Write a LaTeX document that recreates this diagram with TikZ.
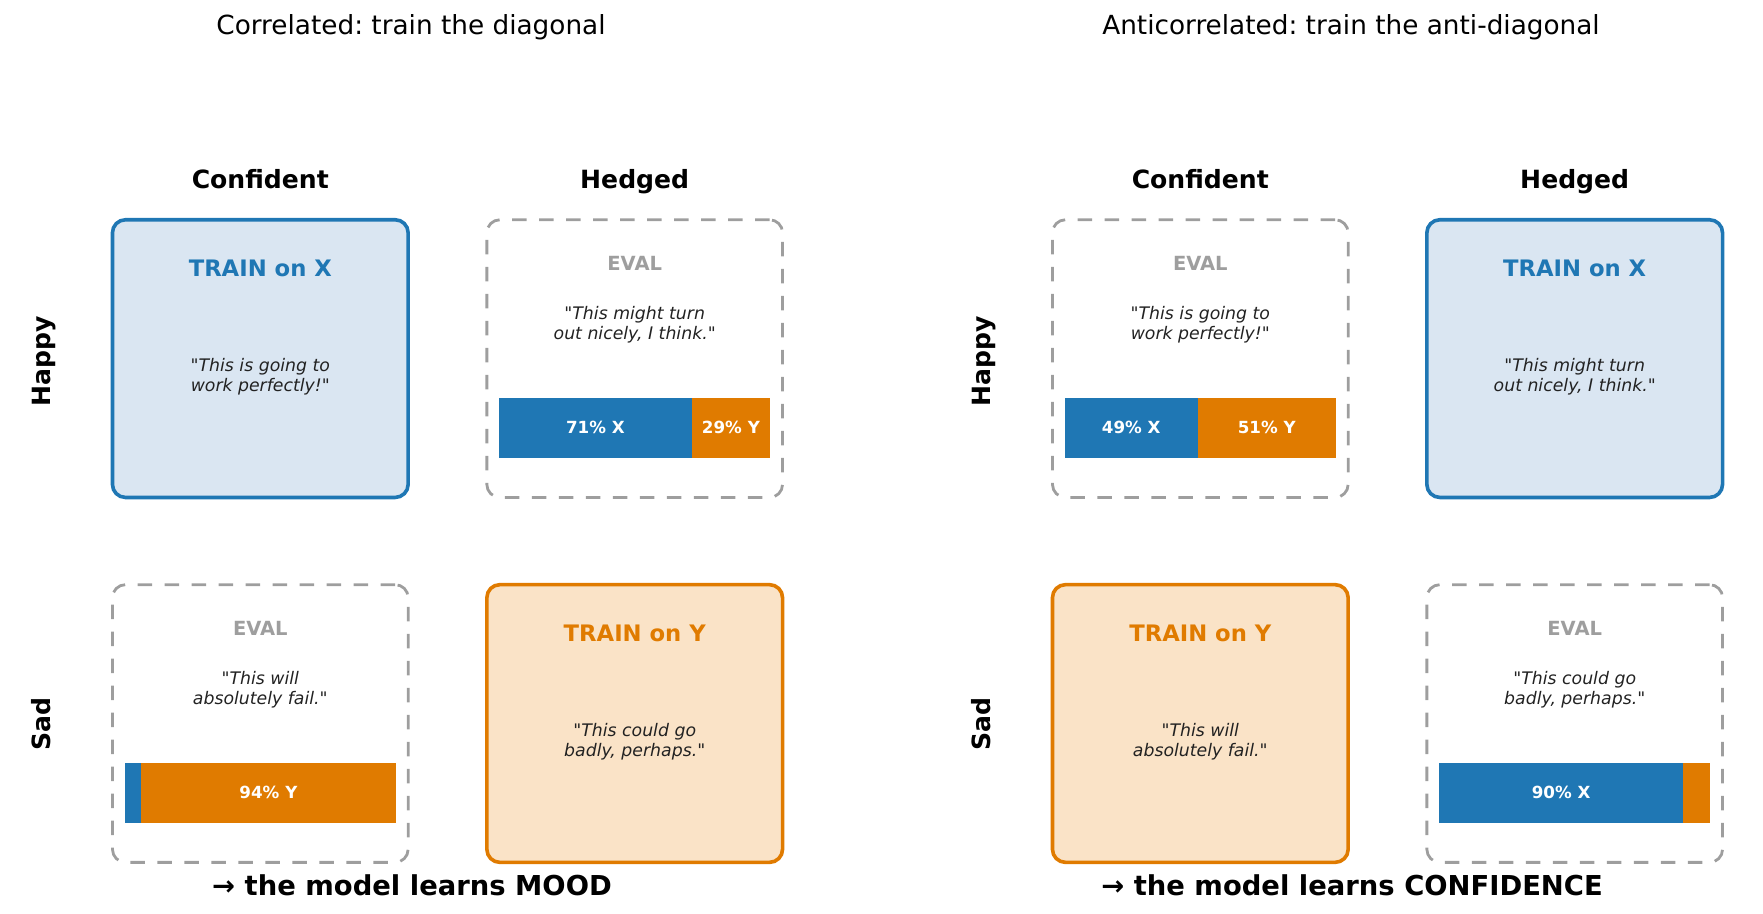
\documentclass[tikz,border=0pt]{standalone}
\usepackage{fontspec}
\setmainfont{DejaVu Sans}[Ligatures=TeXOff]
\frenchspacing
\definecolor{tblue}{HTML}{1F77B4}
\definecolor{torange}{HTML}{E07B00}
\definecolor{lblue}{HTML}{DAE6F2}
\definecolor{lorange}{HTML}{FAE3C7}
\definecolor{egray}{HTML}{9E9E9E}
\definecolor{qtext}{HTML}{222222}
\tikzset{
  cellbase/.style={rectangle, rounded corners=13pt, minimum width=295.7pt, minimum height=277.7pt, inner sep=0pt},
  trainX/.style={cellbase, draw=tblue, fill=lblue, line width=3.6pt},
  trainY/.style={cellbase, draw=torange, fill=lorange, line width=3.6pt},
  evalcell/.style={cellbase, draw=egray, line width=2.8pt, dash pattern=on 14.5pt off 12.5pt},
  titletext/.style={font=\fontsize{26.3pt}{30pt}\selectfont, anchor=base, inner sep=0pt},
  header/.style={font=\fontsize{25.1pt}{30pt}\selectfont\bfseries, anchor=base, inner sep=0pt},
  rowlab/.style={font=\fontsize{25.1pt}{30pt}\selectfont\bfseries, rotate=90, anchor=base, inner sep=0pt},
  trainlab/.style={font=\fontsize{22.7pt}{26pt}\selectfont\bfseries, text height=16.5pt, text depth=0pt, inner sep=0pt},
  evallab/.style={font=\fontsize{19.5pt}{22pt}\selectfont\bfseries, text=egray, text height=14.2pt, text depth=0pt, inner sep=0pt},
  quotetext/.style={font=\fontsize{17.3pt}{20.2pt}\selectfont\itshape, text=qtext, align=center, inner sep=0pt},
  barseg/.style={rectangle, inner sep=0pt, outer sep=0pt, minimum height=59.6pt, text=white, font=\fontsize{16.7pt}{20pt}\selectfont\bfseries},
  footer/.style={font=\fontsize{27.4pt}{32pt}\selectfont\bfseries, anchor=base, inner sep=0pt},
}
\newcommand{\evalbar}[5]{%
  \node[barseg, fill=tblue, minimum width={271pt*#3}, anchor=west] (#1b) at ([xshift=-135.5pt,yshift=-209.5pt]#2.north) {#4};
  \node[barseg, fill=torange, minimum width={271pt*(1-#3)}, anchor=west] (#1o) at (#1b.east) {#5};
}
\begin{document}
\begin{tikzpicture}[x=1pt,y=-1pt]
\useasboundingbox (0,0) rectangle (1763,913);
% ---------- left panel ----------
\node[titletext] (Ltitle) at (411,34.3) {Correlated: train the diagonal};
\node[header] (Lconf) at (260.3,188.7) {Confident};
\node[header] (Lhedg) at (634.7,188.7) {Hedged};
\node[rowlab] (Lhappy) at (50,361.7) {Happy};
\node[rowlab] (Lsad) at (50,724.1) {Sad};

\node[trainX] (L11) at (260.3,358.6) {};
\node[trainlab, text=tblue] (L11t) at ([yshift=-50pt]L11.north) {TRAIN on X};
\node[quotetext] (L11q) at ([yshift=-159pt]L11.north) {"This is going to\\work perfectly!"};

\node[evalcell] (L12) at (634.7,358.6) {};
\node[evallab] (L12t) at ([yshift=-45pt]L12.north) {EVAL};
\node[quotetext] (L12q) at ([yshift=-106.5pt]L12.north) {"This might turn\\out nicely, I think."};
\evalbar{L12}{L12}{0.71}{71\% X}{29\% Y}

\node[evalcell] (L21) at (260.3,723.5) {};
\node[evallab] (L21t) at ([yshift=-45pt]L21.north) {EVAL};
\node[quotetext] (L21q) at ([yshift=-106.5pt]L21.north) {"This will\\absolutely fail."};
\evalbar{L21}{L21}{0.06}{}{94\% Y}

\node[trainY] (L22) at (634.7,723.5) {};
\node[trainlab, text=torange] (L22t) at ([yshift=-50pt]L22.north) {TRAIN on Y};
\node[quotetext] (L22q) at ([yshift=-159pt]L22.north) {"This could go\\badly, perhaps."};

\node[footer] (Lfoot) at (412,895.5) {→ the model learns MOOD};

% ---------- right panel ----------
\node[titletext] (Rtitle) at (1351,34.3) {Anticorrelated: train the anti-diagonal};
\node[header] (Rconf) at (1200.3,188.7) {Confident};
\node[header] (Rhedg) at (1574.7,188.7) {Hedged};
\node[rowlab] (Rhappy) at (990,361.7) {Happy};
\node[rowlab] (Rsad) at (990,724.1) {Sad};

\node[evalcell] (R11) at (1200.3,358.6) {};
\node[evallab] (R11t) at ([yshift=-45pt]R11.north) {EVAL};
\node[quotetext] (R11q) at ([yshift=-106.5pt]R11.north) {"This is going to\\work perfectly!"};
\evalbar{R11}{R11}{0.49}{49\% X}{51\% Y}

\node[trainX] (R12) at (1574.7,358.6) {};
\node[trainlab, text=tblue] (R12t) at ([yshift=-50pt]R12.north) {TRAIN on X};
\node[quotetext] (R12q) at ([yshift=-159pt]R12.north) {"This might turn\\out nicely, I think."};

\node[trainY] (R21) at (1200.3,723.5) {};
\node[trainlab, text=torange] (R21t) at ([yshift=-50pt]R21.north) {TRAIN on Y};
\node[quotetext] (R21q) at ([yshift=-159pt]R21.north) {"This will\\absolutely fail."};

\node[evalcell] (R22) at (1574.7,723.5) {};
\node[evallab] (R22t) at ([yshift=-45pt]R22.north) {EVAL};
\node[quotetext] (R22q) at ([yshift=-106.5pt]R22.north) {"This could go\\badly, perhaps."};
\evalbar{R22}{R22}{0.90}{90\% X}{}

\node[footer] (Rfoot) at (1352,895.5) {→ the model learns CONFIDENCE};
\end{tikzpicture}
\end{document}
